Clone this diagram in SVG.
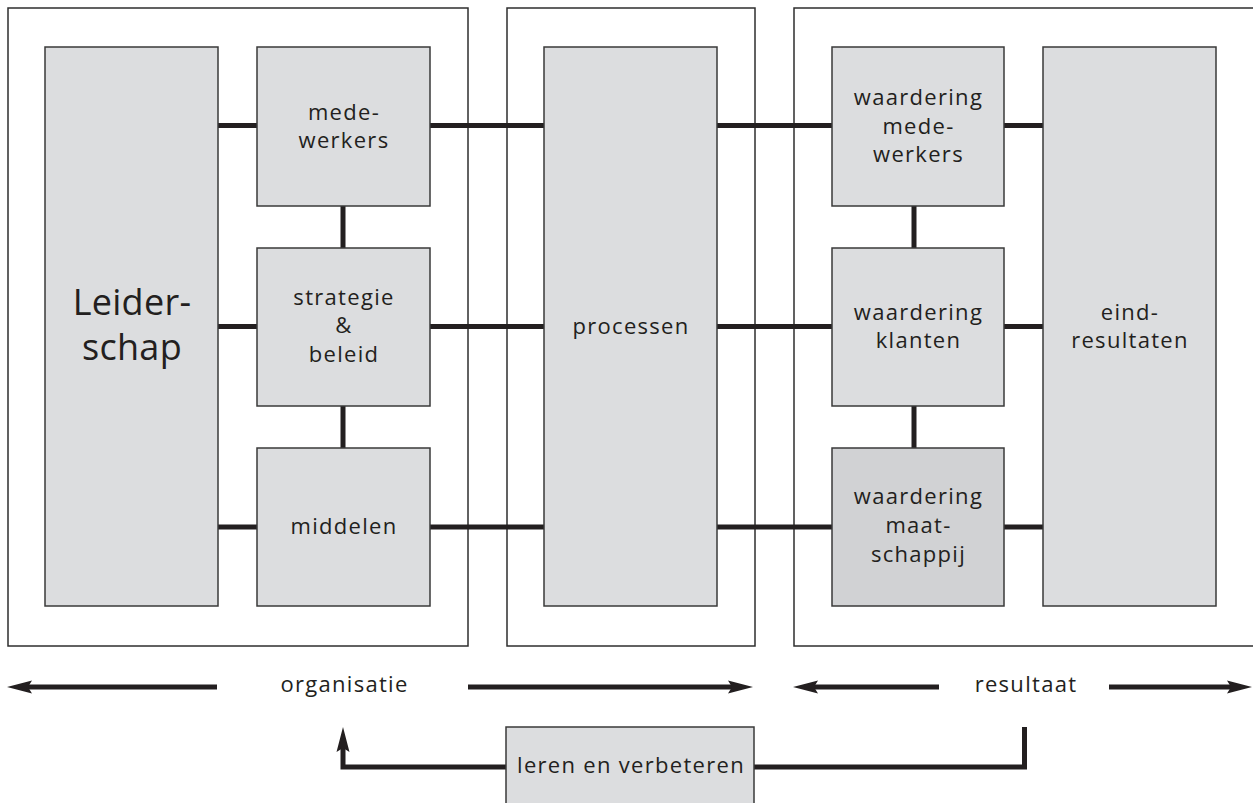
<svg xmlns="http://www.w3.org/2000/svg" width="1253" height="803" viewBox="0 0 1253 803">
<style>
.frame{fill:none;stroke:#2e2e2e;stroke-width:1.5}
.box{fill:#dcdddf;stroke:#3a3a3a;stroke-width:1.5}
.box2{fill:#d1d2d4;stroke:#3a3a3a;stroke-width:1.5}
.con{fill:none;stroke:#231f20;stroke-width:5}
.arr{fill:none;stroke:#231f20;stroke-width:5;marker-end:url(#ah)}
text{font-family:"Open Sans","DejaVu Sans",sans-serif;font-size:22px;letter-spacing:1.3px;fill:#231f20;text-anchor:middle}
.big{font-size:36px;letter-spacing:0.3px}
</style>
<defs>
<marker id="ah" markerUnits="userSpaceOnUse" markerWidth="40" markerHeight="20" refX="0" refY="0" orient="auto" overflow="visible">
<path d="M-4,-6.5 L21,0 L-4,6.5 L0,0 Z" fill="#231f20"/>
</marker>
</defs>
<rect width="1253" height="803" fill="#ffffff"/>
<g id="frames">
<rect class="frame" x="8" y="8" width="460" height="638"/>
<rect class="frame" x="507" y="8" width="248" height="638"/>
<rect class="frame" x="794" y="8" width="480" height="638"/>
</g>
<g id="connectors">
<path class="con" d="M218,125.5H257M430,125.5H544M717,125.5H832M1004,125.5H1043"/>
<path class="con" d="M218,326.5H257M430,326.5H544M717,326.5H832M1004,326.5H1043"/>
<path class="con" d="M218,527H257M430,527H544M717,527H832M1004,527H1043"/>
<path class="con" d="M343,206V248M343,406V448M914,206V248M914,406V448"/>
<path class="arr" d="M217,687H28"/>
<path class="arr" d="M468,687H732"/>
<path class="arr" d="M939,687H814"/>
<path class="arr" d="M1109,687H1231"/>
<path class="arr" d="M506,767H343V748"/>
<path class="con" d="M754,767H1024.5V727"/>
</g>
<g id="leiderschap">
<rect class="box" x="45" y="47" width="173" height="559"/>
<text class="big" x="132" y="315">Leider-</text>
<text class="big" x="132" y="360">schap</text>
</g>
<g id="medewerkers">
<rect class="box" x="257" y="47" width="173" height="159"/>
<text x="344" y="120">mede-</text>
<text x="344" y="148">werkers</text>
</g>
<g id="strategie">
<rect class="box" x="257" y="248" width="173" height="158"/>
<text x="344" y="305">strategie</text>
<text x="344" y="333.3">&amp;</text>
<text x="344" y="361.7">beleid</text>
</g>
<g id="middelen">
<rect class="box" x="257" y="448" width="173" height="158"/>
<text x="344" y="534">middelen</text>
</g>
<g id="processen">
<rect class="box" x="544" y="47" width="173" height="559"/>
<text x="631" y="334">processen</text>
</g>
<g id="waardering-medewerkers">
<rect class="box" x="832" y="47" width="172" height="159"/>
<text x="918.5" y="105">waardering</text>
<text x="918.5" y="134">mede-</text>
<text x="918.5" y="162.3">werkers</text>
</g>
<g id="waardering-klanten">
<rect class="box" x="832" y="248" width="172" height="158"/>
<text x="918.5" y="320">waardering</text>
<text x="918.5" y="347.7">klanten</text>
</g>
<g id="waardering-maatschappij">
<rect class="box2" x="832" y="448" width="172" height="158"/>
<text x="918.5" y="504.3">waardering</text>
<text x="918.5" y="533.3">maat-</text>
<text x="918.5" y="561.7">schappij</text>
</g>
<g id="eindresultaten">
<rect class="box" x="1043" y="47" width="173" height="559"/>
<text x="1130" y="320">eind-</text>
<text x="1130" y="347.7">resultaten</text>
</g>
<g id="labels">
<text x="344.5" y="692">organisatie</text>
<text x="1026" y="692">resultaat</text>
</g>
<g id="leren">
<rect class="box" x="506" y="727" width="248" height="90"/>
<text x="631" y="773.3">leren en verbeteren</text>
</g>
</svg>
